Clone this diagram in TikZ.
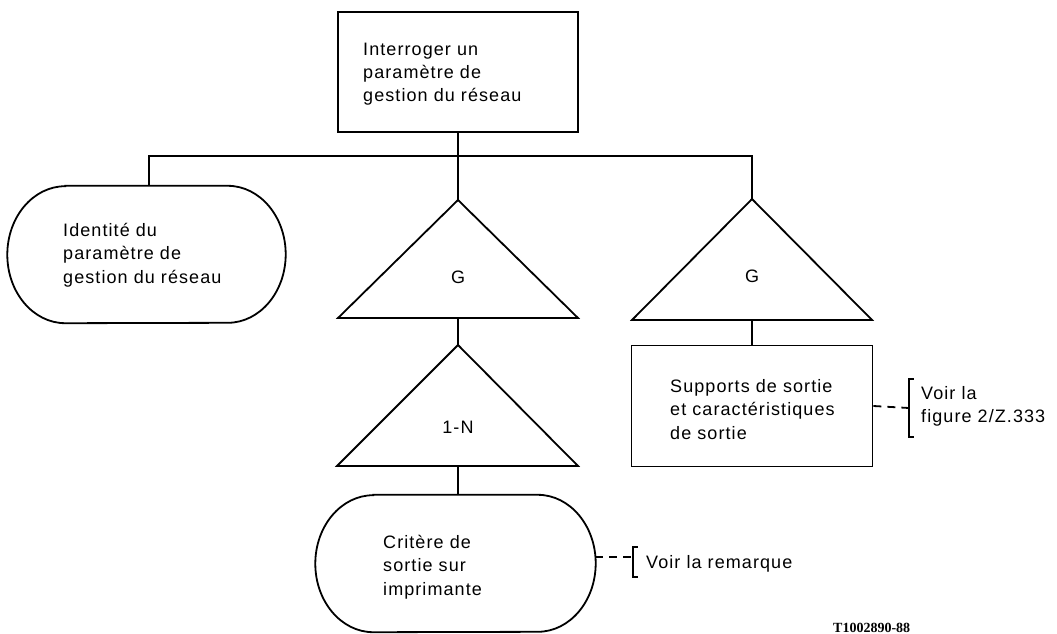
\documentclass[tikz,border=0pt]{standalone}
\usepackage{fontspec}
\setmainfont{Liberation Sans}[LetterSpace=6]
\newfontfamily\codefont{Liberation Serif}
\begin{document}
\begin{tikzpicture}[x=1pt,y=-1pt,
  line/.style={line width=1.8pt, line join=miter},
  box/.style={draw, line width=1.8pt, rectangle, inner sep=0pt},
  stadshape/.style={inner sep=0pt},
  txt/.style={align=left, inner sep=0pt, font=\fontsize{18}{23.3}\selectfont},
  dashline/.style={line width=1.8pt, dash pattern=on 8pt off 6pt},
  brk/.style={line width=2.4pt}
]
\useasboundingbox (0,0) rectangle (1057,634);
\newcommand\stadiumpath[1]{%
  \draw[line] ([xshift=58pt]#1.north west) -- ([xshift=-58pt]#1.north east)
    arc[start angle=90,end angle=-90,x radius=58pt,y radius=68.5pt]
    -- ([xshift=58pt]#1.south west)
    arc[start angle=270,end angle=90,x radius=58pt,y radius=68.5pt] -- cycle;}

% top box
\node[box, minimum width=240pt, minimum height=120pt] (top) at (458,72) {};
\node[txt, anchor=base west] (toptxt) at (363,101.7) {Interroger un\\paramètre de\\gestion du réseau};

% bus coordinates
\coordinate (busL) at (149,156);
\coordinate (busR) at (752,156);

% left stadium
\node[stadshape, minimum width=278pt, minimum height=137pt] (lst) at (146.5,254.5) {};
\stadiumpath{lst}
\node[txt, anchor=base west] (lsttxt) at (63,283) {Identité du\\paramètre de\\gestion du réseau};

% middle G triangle
\coordinate (g1a) at (458,200);
\coordinate (g1b) at (458,318);
\draw[line] (g1a) -- (338,318) -- (578,318) -- cycle;
\node[txt, anchor=center] (g1lab) at (458,277) {G};

% right G triangle
\coordinate (g2a) at (752,199);
\coordinate (g2b) at (752,320);
\draw[line] (g2a) -- (632,320) -- (872,320) -- cycle;
\node[txt, anchor=center] (g2lab) at (752,276) {G};

% 1-N triangle
\coordinate (na) at (458,345);
\coordinate (nb) at (458,466);
\draw[line] (na) -- (337,466) -- (578,466) -- cycle;
\node[txt, anchor=center] (nlab) at (458,427) {1-N};

% bottom stadium
\node[stadshape, minimum width=280pt, minimum height=137pt] (bst) at (455.5,563.5) {};
\stadiumpath{bst}
\node[txt, anchor=base west] (bsttxt) at (383,595) {Critère de\\sortie sur\\imprimante};

% right box
\node[box, minimum width=241pt, minimum height=121pt] (sbox) at (752,406) {};
\node[txt, anchor=base west] (sboxtxt) at (670,439) {Supports de sortie\\et caractéristiques\\de sortie};

% connectors
\draw[line] (top.south) -- (g1a);
\draw[line] (busL |- lst.north) -- (busL) -- (busR) -- (g2a);
\draw[line] (g1b) -- (na);
\draw[line] (nb) -- (nb |- bst.north);
\draw[line] (g2b) -- (sbox.north);

% annotation right
\coordinate (br1) at (909,408);
\draw[dashline] (sbox.east) -- (br1);
\draw[brk] (913.5,379) -- (909,379) -- (909,437) -- (913.5,437);
\node[txt, anchor=base west] (note1) at (921,422.5) {Voir la\\figure 2/Z.333};

% annotation bottom
\coordinate (br2) at (633,557);
\draw[dashline] (595,557) -- (br2);
\draw[brk] (637.5,547) -- (633,547) -- (633,577) -- (637.5,577);
\node[txt, anchor=base west] (note2) at (646,568) {Voir la remarque};

% code
\node[anchor=base west, inner sep=0pt, font=\codefont\bfseries\fontsize{14}{14}\selectfont] (code) at (833,632) {T1002890-88};
\end{tikzpicture}
\end{document}
